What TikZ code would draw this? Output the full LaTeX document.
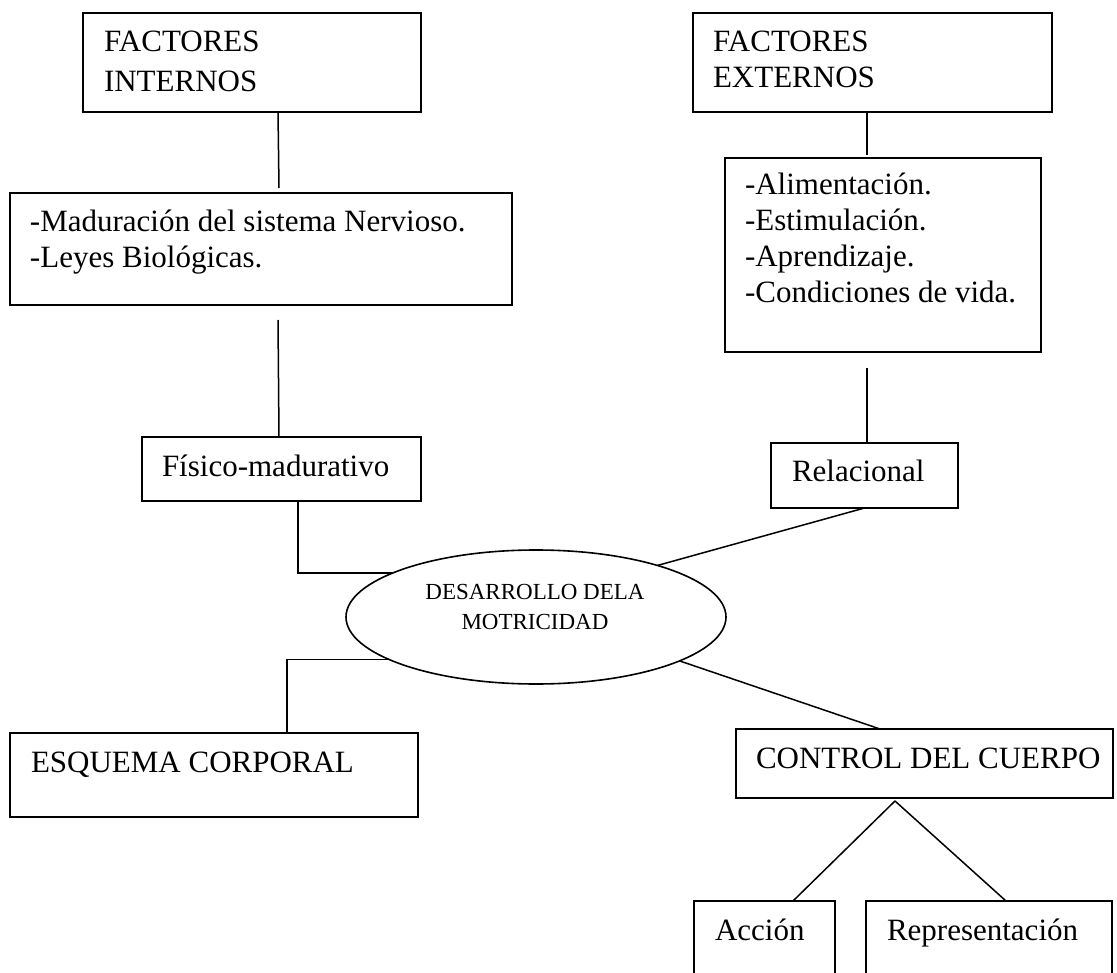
\documentclass[tikz,border=0pt]{standalone}
\usepackage{fontspec}
\setmainfont{Liberation Serif}
\usetikzlibrary{shapes.geometric,calc}
\tikzset{
  box/.style={draw, line width=1.6pt, rectangle, inner sep=0pt, outer sep=0pt, anchor=north west},
  txt/.style={anchor=base west, inner sep=0pt, outer sep=0pt, font=\fontsize{31}{36}\selectfont},
  conn/.style={draw, line width=1.5pt},
}
\begin{document}
\begin{tikzpicture}[x=1pt,y=-1pt]
\useasboundingbox (0,0) rectangle (1117,973);
% boxes
\node[box, minimum width=338pt, minimum height=99pt] (fi) at (83,13) {};
\node[box, minimum width=502pt, minimum height=112pt] (mad) at (10,193) {};
\node[box, minimum width=279pt, minimum height=64pt] (fis) at (142,437) {};
\node[box, minimum width=359pt, minimum height=99pt] (fe) at (693,13) {};
\node[box, minimum width=316pt, minimum height=194pt] (ali) at (725,158) {};
\node[box, minimum width=187pt, minimum height=65pt] (rel) at (771,443) {};
\node[draw, line width=1.6pt, ellipse, minimum width=380pt, minimum height=134pt, inner sep=0pt, outer sep=0pt] (ell) at (536,617) {};
\node[box, minimum width=408pt, minimum height=84pt] (esq) at (10,733) {};
\node[box, minimum width=377pt, minimum height=69pt] (ctl) at (736,729) {};
\node[box, minimum width=141pt, minimum height=90pt] (acc) at (694,901) {};
\node[box, minimum width=246pt, minimum height=90pt] (rep) at (866,901) {};
% texts
\node[txt] (fit) at (104,52) {\vtop{\baselineskip=40pt\hbox{FACTORES}\hbox{INTERNOS}}};
\node[txt] (madt) at (30,232) {\vtop{\baselineskip=36pt\hbox{-Maduración del sistema Nervioso.}\hbox{-Leyes Biológicas.}}};
\node[txt] (fist) at (162,476) {Físico-madurativo};
\node[txt] (fet) at (713,52) {\vtop{\baselineskip=36pt\hbox{FACTORES}\hbox{EXTERNOS}}};
\node[txt] (alit) at (745,195) {\vtop{\baselineskip=36pt\hbox{-Alimentación.}\hbox{-Estimulación.}\hbox{-Aprendizaje.}\hbox{-Condiciones de vida.}}};
\node[txt] (relt) at (792,482) {Relacional};
\node[anchor=base, inner sep=0pt, outer sep=0pt, font=\fontsize{23}{30}\selectfont] (ellt) at (535,599) {\vtop{\baselineskip=30pt\halign{\hfil#\hfil\cr DESARROLLO DELA\cr MOTRICIDAD\cr}}};
\node[txt] (esqt) at (31,772) {ESQUEMA CORPORAL};
\node[txt] (ctlt) at (756,768) {CONTROL DEL CUERPO};
\node[txt] (acct) at (715,940) {Acción};
\node[txt] (rept) at (887,940) {Representación};
% free ends
\coordinate (e1) at (279,188);
\coordinate (s2) at (278,320);
\coordinate (e4) at (867,155);
\coordinate (s5) at (867,368);
\coordinate (ctlb) at (895,801);
% connectors
\draw[conn] ($(fi.south west)+(195,0)$) -- (e1);
\draw[conn] (s2) -- ($(fis.north west)+(137,0)$);
\draw[conn] ($(fis.south west)+(156,0)$) |- (ell.163);
\draw[conn] ($(fe.south west)+(174,0)$) -- (e4);
\draw[conn] (s5) -- ($(rel.north west)+(96,0)$);
\draw[conn] (rel.south) -- (ell.23);
\draw[conn] (ell.196) -| ($(esq.north west)+(277,0)$);
\draw[conn] (ell.-17) -- ($(ctl.north west)+(144,0)$);
\draw[conn] (ctlb) -- ($(acc.north west)+(99,0)$);
\draw[conn] (ctlb) -- ($(rep.north west)+(140,0)$);
\end{tikzpicture}
\end{document}
